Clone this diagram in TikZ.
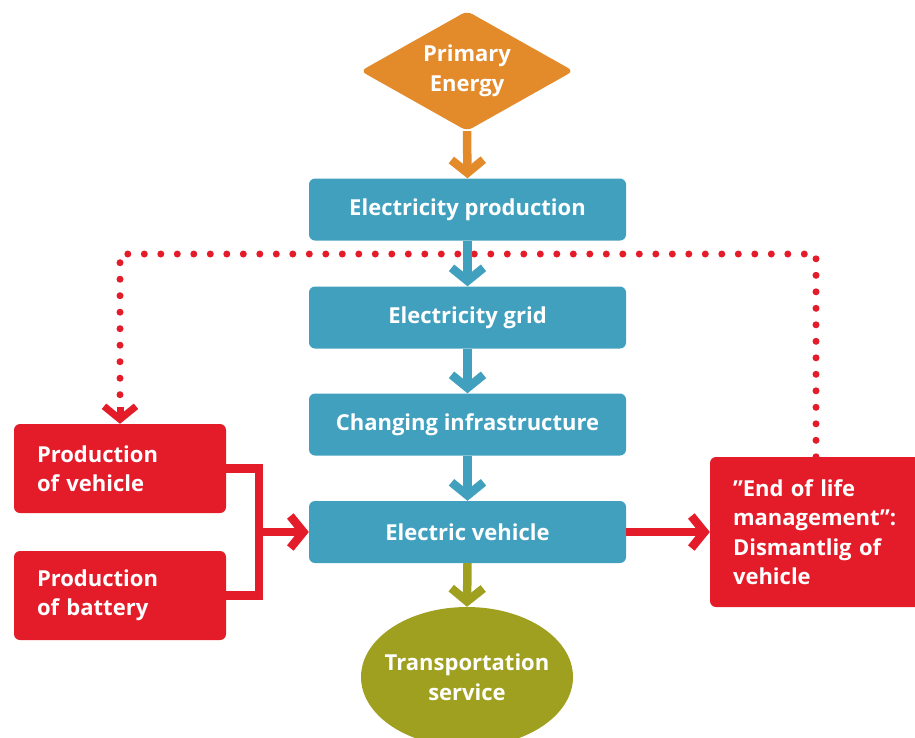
\documentclass[tikz,border=0pt]{standalone}
\usepackage{fontspec}
\setmainfont{Open Sans}
\usetikzlibrary{arrows.meta,shapes.geometric}
\definecolor{energyorange}{HTML}{E38A2B}
\definecolor{chainteal}{HTML}{42A0BF}
\definecolor{lifered}{HTML}{E41C2A}
\definecolor{serviceolive}{HTML}{A0A020}
\begin{document}
\begin{tikzpicture}[x=1pt,y=-1pt,
  labelfont/.style={font=\fontsize{22}{29.5}\selectfont\bfseries, text=white},
  chainbox/.style={labelfont, fill=chainteal, rounded corners=6pt,
    minimum width=317pt, minimum height=62pt, inner sep=0pt},
  redbox/.style={labelfont, fill=lifered, rounded corners=6pt,
    align=left, inner sep=0pt},
  link/.style={line width=8.5pt, line join=miter,
    -{Straight Barb[length=13pt,width=32pt]}},
  dotlink/.style={line width=7pt, line cap=round, lifered,
    dash pattern=on 0pt off 16.5pt},
]
\useasboundingbox (0,0) rectangle (915,737);
\clip (0,0) rectangle (915,737);

% nodes of the chain
\node[diamond, labelfont, fill=energyorange, align=center, rounded corners=6pt,
  inner xsep=-40pt, inner ysep=-25pt,
  minimum width=213pt, minimum height=120pt] (pe) at (467,71) {Primary\\Energy};
\node[chainbox] (ep) at (467.5,209.5) {Electricity production};
\node[chainbox] (eg) at (467.5,317.5) {Electricity grid};
\node[chainbox] (ci) at (467.5,424.5) {Changing infrastructure};
\node[chainbox] (ev) at (467.5,532) {Electric vehicle};
\node[ellipse, labelfont, fill=serviceolive, align=center,
  inner xsep=-40pt, inner ysep=-20pt,
  minimum width=212pt, minimum height=140pt] (ts) at (467,677) {Transportation\\service};

% side boxes
\node[redbox, text width=166pt, minimum width=212pt, minimum height=89pt] (pv) at (120,468.5) {Production\\of vehicle};
\node[redbox, text width=166pt, minimum width=212pt, minimum height=89pt] (pb) at (120,595.5) {Production\\of battery};
\node[redbox, text width=194pt, minimum width=240pt, minimum height=150pt] (eol) at (830,532)
  {”End of life\\management”:\\Dismantlig of\\vehicle};

% dotted return loop
\coordinate (dr) at (816,254);
\coordinate (dl) at (120,254);
\draw[dotlink] (eol.north -| dr) -- (dr) -- (dl) -- ([yshift=16pt]pv.north);
\draw[lifered, line width=7pt, -{Straight Barb[length=13pt,width=32pt]}]
  ([yshift=17pt]pv.north) -- (pv.north);

% main chain connectors
\draw[link, energyorange] (pe.south) -- (ep.north);
\draw[link, chainteal] (ep.south) -- (eg.north);
\draw[link, chainteal] (eg.south) -- (ci.north);
\draw[link, chainteal] (ci.south) -- (ev.north);
\draw[link, serviceolive] (ev.south) -- (ts.north);

% production inputs and end of life
\coordinate (jx) at (259,532);
\draw[lifered, line width=8.5pt, line join=miter] (pv.east) -| (jx) |- (pb.east);
\draw[link, lifered] (jx) -- (ev.west);
\draw[link, lifered] (ev.east) -- (eol.west);
\end{tikzpicture}
\end{document}
